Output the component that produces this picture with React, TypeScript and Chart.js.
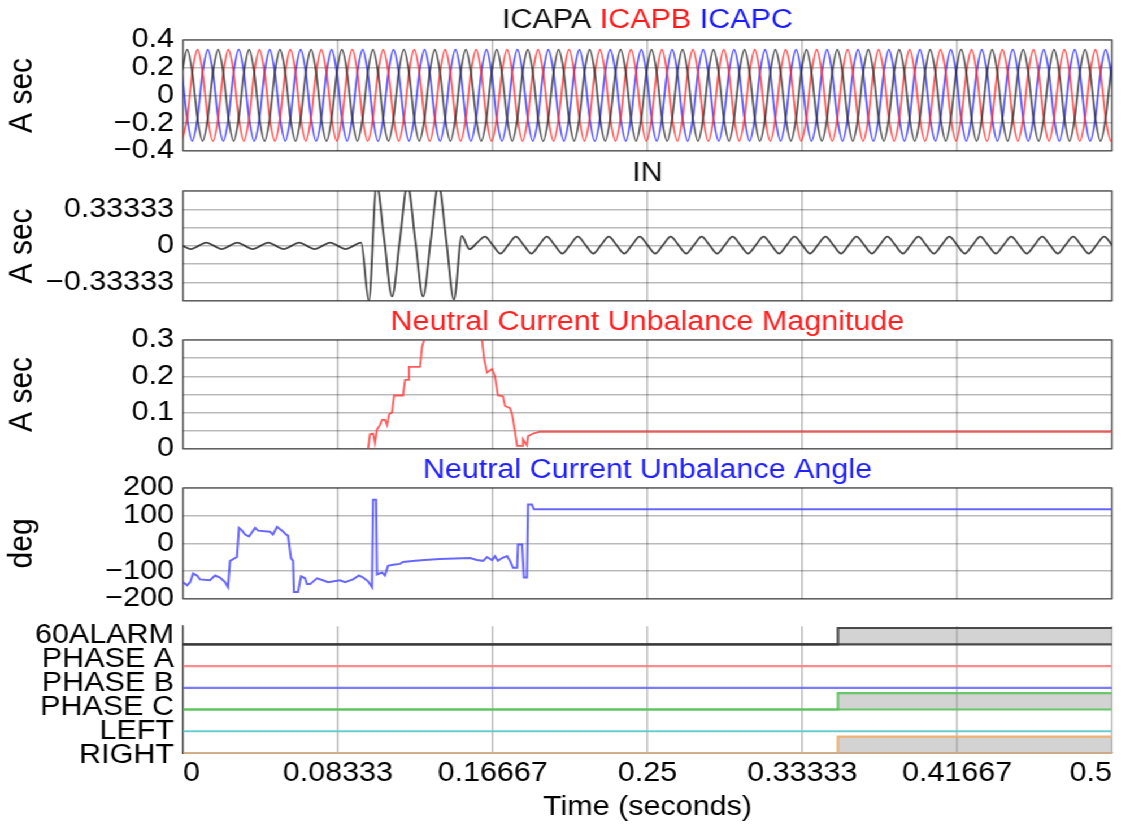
import React, { useEffect, useRef } from 'react';
import { Chart, registerables } from 'chart.js';

Chart.register(...registerables);

// ---------------- data ----------------
const X_TICK_VALUES = [0, 0.0833333, 0.1666667, 0.25, 0.3333333, 0.4166667, 0.5];
const X_TICK_LABELS = ['0', '0.08333', '0.16667', '0.25', '0.33333', '0.41667', '0.5'];

// capacitor currents, sampled every 1/360 s starting at ICAP_T0
const ICAP_T0 = -0.00058;
const ICAP_DT = 1 / 360;
const ICAPA = [
  0.165, 0.33, 0.165, -0.165, -0.33, -0.165, 0.165, 0.33, 0.165, -0.165, -0.33, -0.165,
  0.165, 0.33, 0.165, -0.165, -0.33, -0.165, 0.165, 0.33, 0.165, -0.165, -0.33, -0.165,
  0.165, 0.33, 0.165, -0.165, -0.33, -0.165, 0.165, 0.33, 0.165, -0.165, -0.33, -0.165,
  0.165, 0.33, 0.165, -0.165, -0.33, -0.165, 0.165, 0.33, 0.165, -0.165, -0.33, -0.165,
  0.165, 0.33, 0.165, -0.165, -0.33, -0.165, 0.165, 0.33, 0.165, -0.165, -0.33, -0.165,
  0.165, 0.33, 0.165, -0.165, -0.33, -0.165, 0.165, 0.33, 0.165, -0.165, -0.33, -0.165,
  0.165, 0.33, 0.165, -0.165, -0.33, -0.165, 0.165, 0.33, 0.165, -0.165, -0.33, -0.165,
  0.165, 0.33, 0.165, -0.165, -0.33, -0.165, 0.165, 0.33, 0.165, -0.165, -0.33, -0.165,
  0.165, 0.33, 0.165, -0.165, -0.33, -0.165, 0.165, 0.33, 0.165, -0.165, -0.33, -0.165,
  0.165, 0.33, 0.165, -0.165, -0.33, -0.165, 0.165, 0.33, 0.165, -0.165, -0.33, -0.165,
  0.165, 0.33, 0.165, -0.165, -0.33, -0.165, 0.165, 0.33, 0.165, -0.165, -0.33, -0.165,
  0.165, 0.33, 0.165, -0.165, -0.33, -0.165, 0.165, 0.33, 0.165, -0.165, -0.33, -0.165,
  0.165, 0.33, 0.165, -0.165, -0.33, -0.165, 0.165, 0.33, 0.165, -0.165, -0.33, -0.165,
  0.165, 0.33, 0.165, -0.165, -0.33, -0.165, 0.165, 0.33, 0.165, -0.165, -0.33, -0.165,
  0.165, 0.33, 0.165, -0.165, -0.33, -0.165, 0.165, 0.33, 0.165, -0.165, -0.33, -0.165,
  0.165, 0.33,
];
const ICAPB = [
  -0.33, -0.165, 0.165, 0.33, 0.165, -0.165, -0.33, -0.165, 0.165, 0.33, 0.165, -0.165,
  -0.33, -0.165, 0.165, 0.33, 0.165, -0.165, -0.33, -0.165, 0.165, 0.33, 0.165, -0.165,
  -0.33, -0.165, 0.165, 0.33, 0.165, -0.165, -0.33, -0.165, 0.165, 0.33, 0.165, -0.165,
  -0.33, -0.165, 0.165, 0.33, 0.165, -0.165, -0.33, -0.165, 0.165, 0.33, 0.165, -0.165,
  -0.33, -0.165, 0.165, 0.33, 0.165, -0.165, -0.33, -0.165, 0.165, 0.33, 0.165, -0.165,
  -0.33, -0.165, 0.165, 0.33, 0.165, -0.165, -0.33, -0.165, 0.165, 0.33, 0.165, -0.165,
  -0.33, -0.165, 0.165, 0.33, 0.165, -0.165, -0.33, -0.165, 0.165, 0.33, 0.165, -0.165,
  -0.33, -0.165, 0.165, 0.33, 0.165, -0.165, -0.33, -0.165, 0.165, 0.33, 0.165, -0.165,
  -0.33, -0.165, 0.165, 0.33, 0.165, -0.165, -0.33, -0.165, 0.165, 0.33, 0.165, -0.165,
  -0.33, -0.165, 0.165, 0.33, 0.165, -0.165, -0.33, -0.165, 0.165, 0.33, 0.165, -0.165,
  -0.33, -0.165, 0.165, 0.33, 0.165, -0.165, -0.33, -0.165, 0.165, 0.33, 0.165, -0.165,
  -0.33, -0.165, 0.165, 0.33, 0.165, -0.165, -0.33, -0.165, 0.165, 0.33, 0.165, -0.165,
  -0.33, -0.165, 0.165, 0.33, 0.165, -0.165, -0.33, -0.165, 0.165, 0.33, 0.165, -0.165,
  -0.33, -0.165, 0.165, 0.33, 0.165, -0.165, -0.33, -0.165, 0.165, 0.33, 0.165, -0.165,
  -0.33, -0.165, 0.165, 0.33, 0.165, -0.165, -0.33, -0.165, 0.165, 0.33, 0.165, -0.165,
  -0.33, -0.165,
];
const ICAPC = [
  0.165, -0.165, -0.33, -0.165, 0.165, 0.33, 0.165, -0.165, -0.33, -0.165, 0.165, 0.33,
  0.165, -0.165, -0.33, -0.165, 0.165, 0.33, 0.165, -0.165, -0.33, -0.165, 0.165, 0.33,
  0.165, -0.165, -0.33, -0.165, 0.165, 0.33, 0.165, -0.165, -0.33, -0.165, 0.165, 0.33,
  0.165, -0.165, -0.33, -0.165, 0.165, 0.33, 0.165, -0.165, -0.33, -0.165, 0.165, 0.33,
  0.165, -0.165, -0.33, -0.165, 0.165, 0.33, 0.165, -0.165, -0.33, -0.165, 0.165, 0.33,
  0.165, -0.165, -0.33, -0.165, 0.165, 0.33, 0.165, -0.165, -0.33, -0.165, 0.165, 0.33,
  0.165, -0.165, -0.33, -0.165, 0.165, 0.33, 0.165, -0.165, -0.33, -0.165, 0.165, 0.33,
  0.165, -0.165, -0.33, -0.165, 0.165, 0.33, 0.165, -0.165, -0.33, -0.165, 0.165, 0.33,
  0.165, -0.165, -0.33, -0.165, 0.165, 0.33, 0.165, -0.165, -0.33, -0.165, 0.165, 0.33,
  0.165, -0.165, -0.33, -0.165, 0.165, 0.33, 0.165, -0.165, -0.33, -0.165, 0.165, 0.33,
  0.165, -0.165, -0.33, -0.165, 0.165, 0.33, 0.165, -0.165, -0.33, -0.165, 0.165, 0.33,
  0.165, -0.165, -0.33, -0.165, 0.165, 0.33, 0.165, -0.165, -0.33, -0.165, 0.165, 0.33,
  0.165, -0.165, -0.33, -0.165, 0.165, 0.33, 0.165, -0.165, -0.33, -0.165, 0.165, 0.33,
  0.165, -0.165, -0.33, -0.165, 0.165, 0.33, 0.165, -0.165, -0.33, -0.165, 0.165, 0.33,
  0.165, -0.165, -0.33, -0.165, 0.165, 0.33, 0.165, -0.165, -0.33, -0.165, 0.165, 0.33,
  0.165, -0.165,
];

// neutral current, sampled every 1/240 s from t = 0
const IN_DT = 1 / 240;
const IN_A = [
  0, -0.03, 0, 0.03, 0, -0.03, 0, 0.03, 0, -0.03, 0, 0.03,
  0, -0.03, 0, 0.03, 0, -0.03, 0, 0.03, 0, -0.03, 0, 0.03,
  -0.5, 0.56, 0.05, -0.46, 0.05, 0.56, 0.05, -0.46, 0.05, 0.56, 0.05, -0.49,
  0.09, -0.03, 0.03, 0.085, 0.008, -0.07, 0.008, 0.085,
  0.008, -0.07, 0.008, 0.085, 0.008, -0.07, 0.008, 0.085, 0.008, -0.07, 0.008, 0.085,
  0.008, -0.07, 0.008, 0.085, 0.008, -0.07, 0.008, 0.085, 0.008, -0.07, 0.008, 0.085,
  0.008, -0.07, 0.008, 0.085, 0.008, -0.07, 0.008, 0.085, 0.008, -0.07, 0.008, 0.085,
  0.008, -0.07, 0.008, 0.085, 0.008, -0.07, 0.008, 0.085, 0.008, -0.07, 0.008, 0.085,
  0.008, -0.07, 0.008, 0.085, 0.008, -0.07, 0.008, 0.085, 0.008, -0.07, 0.008, 0.085,
  0.008, -0.07, 0.008, 0.085, 0.008, -0.07, 0.008, 0.085, 0.008, -0.07, 0.008, 0.085,
  0.008, -0.07, 0.008, 0.085,
  0.008,
];

// neutral current unbalance magnitude
const MAG_T = [0.0996, 0.1006, 0.1023, 0.1033, 0.1044, 0.106, 0.1071, 0.1087, 0.1098, 0.1109, 0.1125, 0.1136, 0.1184, 0.1195, 0.1211, 0.1216, 0.1276, 0.1286, 0.1297, 0.136, 0.145, 0.155, 0.1609, 0.162, 0.1636, 0.1663, 0.1679, 0.1695, 0.1722, 0.1733, 0.176, 0.1771, 0.1787, 0.1798, 0.1825, 0.183, 0.1851, 0.1857, 0.1884, 0.1921, 0.5];
const MAG_V = [0, 0.04, 0.042, 0.016, 0.053, 0.066, 0.08, 0.08, 0.066, 0.095, 0.1, 0.147, 0.147, 0.19, 0.19, 0.226, 0.226, 0.28, 0.3, 0.4, 0.42, 0.38, 0.3, 0.25, 0.21, 0.22, 0.2, 0.147, 0.145, 0.118, 0.112, 0.095, 0.047, 0.008, 0.008, 0.026, 0.01, 0.035, 0.042, 0.047, 0.047];

// neutral current unbalance angle
const ANG_T = [0, 0.0022, 0.0038, 0.0054, 0.0075, 0.0091, 0.0145, 0.0172, 0.0199, 0.0226, 0.0242, 0.0253, 0.029, 0.0301, 0.0318, 0.0334, 0.0355, 0.0388, 0.0404, 0.0468, 0.0484, 0.0506, 0.0533, 0.0554, 0.0565, 0.0581, 0.0592, 0.0597, 0.0619, 0.0635, 0.0657, 0.0667, 0.0684, 0.0721, 0.0753, 0.078, 0.0845, 0.0872, 0.0915, 0.0947, 0.0969, 0.0996, 0.1017, 0.1023, 0.1039, 0.1044, 0.1071, 0.1087, 0.1103, 0.113, 0.1168, 0.1184, 0.125, 0.13, 0.1383, 0.1545, 0.1582, 0.1615, 0.1636, 0.1663, 0.1679, 0.1695, 0.1717, 0.1744, 0.176, 0.1776, 0.1798, 0.1803, 0.1825, 0.1835, 0.1851, 0.1857, 0.1878, 0.1889, 0.5];
const ANG_V = [-140, -151, -140, -109, -116, -130, -133, -116, -123, -140, -158, -63, -49, 56, 46, 32, 25, 56, 46, 42, 32, 60, 46, 32, 28, -53, -63, -175, -175, -119, -126, -147, -147, -126, -133, -140, -133, -140, -130, -116, -123, -137, -158, 158, 158, -112, -105, -116, -81, -77, -74, -67, -63, -60, -56, -53, -60, -63, -49, -60, -46, -63, -53, -46, -63, -88, -88, -4, -4, -123, -123, 140, 140, 123, 123];

// digital channels (0 = deasserted, 1 = asserted) at DIG_T
const DIG_T = [0, 0.3525, 0.5];
const ALARM60 = [0, 1, 1];
const PHASE_A = [0, 0, 0];
const PHASE_B = [0, 0, 0];
const PHASE_C = [0, 1, 1];
const LEFT = [0, 0, 0];
const RIGHT = [0, 1, 1];
const DIG_LABELS = ['RIGHT', 'LEFT', 'PHASE C', 'PHASE B', 'PHASE A', '60ALARM'];

// tick lists
const P1_TICKS = [-0.4, -0.2, 0, 0.2, 0.4];
const P1_LABELS = ['\u22120.4', '\u22120.2', '0', '0.2', '0.4'];
const P2_TICKS = [-0.5, -0.3333333, -0.1666667, 0, 0.1666667, 0.3333333, 0.5];
const P2_LABELS = ['', '\u22120.33333', '', '0', '', '0.33333', ''];
const P3_TICKS = [0, 0.05, 0.1, 0.15, 0.2, 0.25, 0.3];
const P3_LABELS = ['0', '', '0.1', '', '0.2', '', '0.3'];
const P4_TICKS = [-200, -100, 0, 100, 200];
const P4_LABELS = ['\u2212200', '\u2212100', '0', '100', '200'];

// ---------------- styling / layout ----------------
const FONT = '"Liberation Sans", Arial, Helvetica, sans-serif';
const STRETCH = 1.13;
const INNER_W = 993;
const PLOT_LEFT = 162;
const RIGHT_PAD = 9;
const GRID = 'rgba(0,0,0,0.27)';
const BOX = 'rgba(0,0,0,0.5)';
const TICK_FONT = { family: FONT, size: 27 };
const HIGH = 0.75;

const pts = (t: number[], v: number[]) => v.map((y, i) => ({ x: t[i], y }));

const panelTitle = {
  id: 'panelTitle',
  afterDraw(chart: any, _a: any, opts: any) {
    if (!opts || !opts.parts || !opts.parts.length) return;
    const ctx = chart.ctx;
    const { left, right, top } = chart.chartArea;
    ctx.save();
    ctx.font = `27px ${FONT}`;
    ctx.textBaseline = 'middle';
    ctx.textAlign = 'left';
    const space = ctx.measureText(' ').width;
    const widths = opts.parts.map((p: any) => ctx.measureText(p.text).width);
    const total = widths.reduce((a: number, b: number) => a + b, 0) + space * (opts.parts.length - 1);
    let x = (left + right) / 2 - total / 2;
    opts.parts.forEach((p: any, i: number) => {
      ctx.fillStyle = p.color;
      ctx.fillText(p.text, x, top - opts.offset);
      x += widths[i] + space;
    });
    ctx.restore();
  },
};

const panelBox = {
  id: 'panelBox',
  beforeDatasetsDraw(chart: any, _a: any, opts: any) {
    if (!opts || !opts.show) return;
    const { left, top, width, height } = chart.chartArea;
    const ctx = chart.ctx;
    ctx.save();
    ctx.strokeStyle = BOX;
    ctx.lineWidth = 1.5;
    ctx.strokeRect(left, top, width, height);
    ctx.restore();
  },
};

function xHidden() {
  return {
    type: 'linear',
    min: 0,
    max: 0.5,
    afterBuildTicks: (s: any) => { s.ticks = X_TICK_VALUES.map((v) => ({ value: v })); },
    ticks: { display: false },
    grid: { color: GRID, lineWidth: 1.5, drawTicks: false },
    border: { display: false },
  };
}

function yAxis(min: number, max: number, ticks: number[], labels: string[], title: string) {
  return {
    type: 'linear',
    min,
    max,
    afterBuildTicks: (s: any) => { s.ticks = ticks.map((v) => ({ value: v })); },
    afterFit: (s: any) => { s.width = PLOT_LEFT; },
    ticks: { autoSkip: false, font: TICK_FONT, color: '#000', padding: 8, callback: (_v: any, i: number) => labels[i] },
    grid: { color: GRID, lineWidth: 1.5, drawTicks: false },
    border: { display: false },
    title: { display: true, text: title, font: { family: FONT, size: 30 }, color: '#000', padding: { top: 2, bottom: 0 } },
  };
}

function baseOptions(scales: any, titleParts: any[], titleOffset: number, box: boolean, padTop: number, padBottom: number) {
  return {
    responsive: false,
    animation: false,
    events: [],
    layout: { padding: { top: padTop, bottom: padBottom, left: 0, right: RIGHT_PAD } },
    elements: { point: { radius: 0 } },
    plugins: {
      legend: { display: false },
      tooltip: { enabled: false },
      panelTitle: { parts: titleParts, offset: titleOffset },
      panelBox: { show: box },
    },
    scales,
  };
}

const buildP1 = () => {
  const t = ICAPA.map((_, i) => ICAP_T0 + i * ICAP_DT);
  const ds = (v: number[], c: string) => ({ data: pts(t, v), borderColor: c, borderWidth: 1.7, cubicInterpolationMode: 'monotone', pointRadius: 0 });
  return {
    type: 'line',
    data: { datasets: [ds(ICAPA, 'rgba(35,35,35,0.78)'), ds(ICAPB, 'rgba(255,35,35,0.78)'), ds(ICAPC, 'rgba(35,35,255,0.78)')] },
    options: baseOptions(
      { x: xHidden(), y: yAxis(-0.4, 0.4, P1_TICKS, P1_LABELS, 'A sec') },
      [{ text: 'ICAPA', color: '#111' }, { text: 'ICAPB', color: '#ff1a1a' }, { text: 'ICAPC', color: '#1a1aff' }],
      19, true, 36, 20,
    ),
    plugins: [panelTitle, panelBox],
  };
};

const buildP2 = () => {
  const t = IN_A.map((_, i) => i * IN_DT);
  return {
    type: 'line',
    data: { datasets: [{ data: pts(t, IN_A), borderColor: 'rgba(30,30,30,0.82)', borderWidth: 1.8, cubicInterpolationMode: 'monotone', pointRadius: 0 }] },
    options: baseOptions(
      { x: xHidden(), y: yAxis(-0.5, 0.5, P2_TICKS, P2_LABELS, 'A sec') },
      [{ text: 'IN', color: '#111' }],
      17, true, 36, 20,
    ),
    plugins: [panelTitle, panelBox],
  };
};

const buildP3 = () => ({
  type: 'line',
  data: { datasets: [{ data: pts(MAG_T, MAG_V), borderColor: 'rgba(255,50,50,0.8)', borderWidth: 1.8, pointRadius: 0 }] },
  options: baseOptions(
    { x: xHidden(), y: yAxis(0, 0.3, P3_TICKS, P3_LABELS, 'A sec') },
    [{ text: 'Neutral Current Unbalance Magnitude', color: '#ff2020' }],
    17, true, 36, 20,
  ),
  plugins: [panelTitle, panelBox],
});

const buildP4 = () => ({
  type: 'line',
  data: { datasets: [{ data: pts(ANG_T, ANG_V), borderColor: 'rgba(70,70,255,0.82)', borderWidth: 2, pointRadius: 0 }] },
  options: baseOptions(
    { x: xHidden(), y: yAxis(-200, 200, P4_TICKS, P4_LABELS, 'deg') },
    [{ text: 'Neutral Current Unbalance Angle', color: '#2020ff' }],
    17, true, 36, 20,
  ),
  plugins: [panelTitle, panelBox],
});

const buildP5 = () => {
  const channels = [
    { state: ALARM60, base: 5, color: 'rgba(55,55,55,0.9)' },
    { state: PHASE_A, base: 4, color: 'rgba(255,120,120,0.85)' },
    { state: PHASE_B, base: 3, color: 'rgba(100,100,255,0.85)' },
    { state: PHASE_C, base: 2, color: 'rgba(90,195,90,0.9)' },
    { state: LEFT, base: 1, color: 'rgba(90,200,200,0.9)' },
    { state: RIGHT, base: 0, color: 'rgba(240,170,100,0.9)' },
  ];
  const baselines = channels.map((c) => ({
    data: [{ x: 0, y: c.base }, { x: 0.5, y: c.base }],
    borderColor: c.color,
    borderWidth: 2.2,
    pointRadius: 0,
  }));
  const states = channels
    .filter((c) => c.state.some((s) => s > 0))
    .map((c) => ({
      data: DIG_T.map((t, j) => ({ x: t, y: c.base + HIGH * c.state[j] })),
      borderColor: c.color,
      borderWidth: 2.2,
      stepped: 'before',
      fill: { value: c.base },
      backgroundColor: 'rgba(140,140,140,0.38)',
      pointRadius: 0,
    }));
  return {
    type: 'line',
    data: { datasets: [...baselines, ...states] },
    options: baseOptions(
      {
        x: {
          type: 'linear',
          position: 'bottom',
          min: 0,
          max: 0.5,
          afterBuildTicks: (s: any) => { s.ticks = X_TICK_VALUES.map((v) => ({ value: v })); },
          afterFit: (s: any) => { s.height = 74; },
          ticks: { autoSkip: false, maxRotation: 0, align: 'inner', font: TICK_FONT, color: '#000', padding: 4, callback: (_v: any, i: number) => X_TICK_LABELS[i] },
          grid: { color: GRID, lineWidth: 1.5, drawTicks: false },
          border: { display: true, color: 'rgba(0,0,0,0.6)', width: 1.5 },
          title: { display: true, text: 'Time (seconds)', font: { family: FONT, size: 27 }, color: '#000', padding: { top: 0, bottom: 3 } },
        },
        y: { type: 'linear', display: false, min: 0, max: 5.833 },
        yl: {
          type: 'linear',
          position: 'left',
          min: 0.119,
          max: 5.397,
          afterBuildTicks: (s: any) => { s.ticks = DIG_LABELS.map((_, i) => ({ value: i })); },
          afterFit: (s: any) => { s.width = PLOT_LEFT; },
          ticks: { autoSkip: false, font: TICK_FONT, color: '#000', padding: 8, callback: (_v: any, i: number) => DIG_LABELS[i] },
          grid: { display: false, drawTicks: false },
          border: { display: true, color: 'rgba(0,0,0,0.6)', width: 1.5 },
        },
      },
      [],
      17, false, 18, 0,
    ),
    plugins: [panelTitle, panelBox],
  };
};

function Panel({ top, height, build }: { top: number; height: number; build: () => any }) {
  const ref = useRef<HTMLCanvasElement | null>(null);
  useEffect(() => {
    if (!ref.current) return;
    const chart = new Chart(ref.current, build());
    return () => chart.destroy();
  }, [build]);
  return (
    <div style={{ position: 'absolute', left: 0, top, width: INNER_W, height }}>
      <canvas ref={ref} width={INNER_W} height={height} />
    </div>
  );
}

export default function App() {
  return (
    <div style={{ position: 'fixed', left: 0, top: 0, width: 1123, height: 827, overflow: 'hidden', background: '#fff' }}>
      <div style={{ position: 'absolute', left: 0, top: 0, width: INNER_W, height: 827, transform: `scaleX(${STRETCH})`, transformOrigin: '0 0' }}>
        <Panel top={4} height={171} build={buildP1} />
        <Panel top={155} height={170} build={buildP2} />
        <Panel top={304} height={169} build={buildP3} />
        <Panel top={452} height={171} build={buildP4} />
        <Panel top={602} height={225} build={buildP5} />
      </div>
    </div>
  );
}
